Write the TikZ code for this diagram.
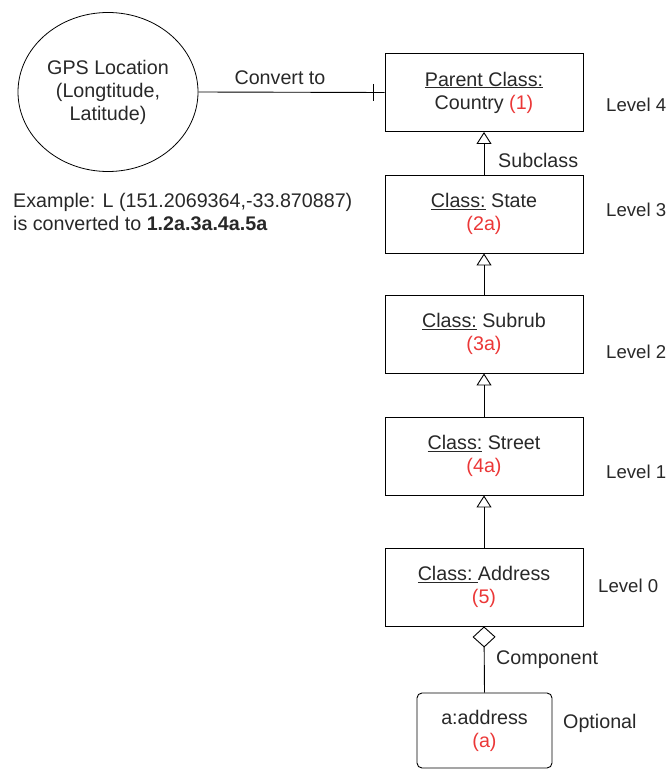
\documentclass[tikz,border=0pt]{standalone}
\usepackage{fontspec}
\setmainfont{Liberation Sans}
\usetikzlibrary{arrows.meta,calc,shapes.geometric}
\definecolor{txt}{RGB}{40,40,40}
\definecolor{idred}{RGB}{235,55,55}
\newcommand{\idtag}[1]{\textcolor{idred}{#1}}
\begin{document}
\begin{tikzpicture}[x=1pt,y=-1pt,
  every node/.style={font=\fontsize{19.7}{23}\selectfont, text=txt},
  classbox/.style={draw=black, line width=0.9pt, minimum width=198pt, minimum height=78pt, align=center, inner sep=0pt},
  optbox/.style={draw=black, line width=0.9pt, rounded corners=5pt, minimum width=135pt, minimum height=75pt, align=center, inner sep=0pt},
  gpscircle/.style={draw=black, line width=0.8pt, ellipse, minimum width=180pt, minimum height=159pt, align=center, inner sep=0pt},
  link/.style={draw=black, line width=0.9pt},
  inherit/.style={link, -{Triangle[open, width=15pt, length=12pt]}},
  part/.style={link, {Diamond[open, width=23pt, length=21pt]}-},
  note/.style={anchor=west, inner sep=0pt},
  levelnote/.style={note, font=\fontsize{18.6}{22}\selectfont}
]
\useasboundingbox (0,0) rectangle (667,770);

% location ellipse and its conversion link
\node[gpscircle] (gps) at (108,92) {GPS Location\\(Longtitude,\\Latitude)};

% class hierarchy
\node[classbox] (country) at (484,92.5) {\underline{Parent Class:}\\Country \idtag{(1)}};
\node[classbox] (state)   at (484,214)  {\underline{Class:} State\\\idtag{(2a)}};
\node[classbox] (suburb)  at (484,334)  {\underline{Class:} Subrub\\\idtag{(3a)}};
\node[classbox] (street)  at (484,456)  {\underline{Class:} Street\\\idtag{(4a)}};
\node[classbox] (address) at (484,587)  {\underline{Class:\ }Address\\\idtag{(5)}};
\node[optbox]   (addr)    at (484.5,730.5) {a:address\\\idtag{(a)}};

\draw[link] (gps.east) -- (country.west);
\draw[link] ([xshift=-11pt]country.west) ++(0,-8.5) -- ++(0,17);
\node[inner sep=0pt] (convlbl) at (280,78) {Convert to};

\draw[inherit] (state.north)   -- (country.south);
\draw[inherit] (suburb.north)  -- (state.south);
\draw[inherit] (street.north)  -- (suburb.south);
\draw[inherit] (address.north) -- (street.south);
\draw[part]    (address.south) -- (addr.north);

% labels
\node[note] (sublbl)  at (498,160) {Subclass};
\node[note] (complbl) at (496,660) {Component};
\node[levelnote] (lv4) at (606,105) {Level 4};
\node[levelnote] (lv3) at (606,210) {Level 3};
\node[levelnote] (lv2) at (606,352) {Level 2};
\node[levelnote] (lv1) at (606,472) {Level 1};
\node[levelnote] (lv0) at (598,586) {Level 0};
\node[note] (opt) at (563,723) {Optional};

\node[note, align=left] (example) at (13,211.5)
  {Example: L (151.2069364,-33.870887)\\is converted to \textbf{1.2a.3a.4a.5a}};
\end{tikzpicture}
\end{document}
